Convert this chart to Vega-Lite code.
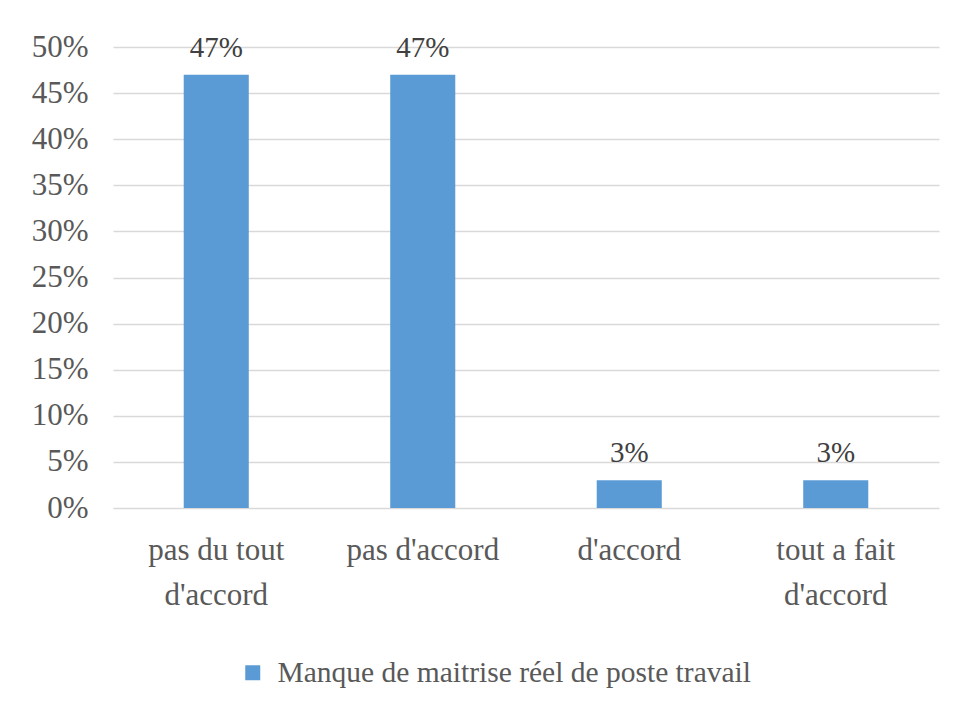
{
  "$schema": "https://vega.github.io/schema/vega-lite/v6.json",
  "width": 826,
  "height": 461,
  "autosize": {"type": "none"},
  "padding": {"left": 113, "top": 47, "right": 19, "bottom": 207},
  "background": "white",
  "data": {
    "values": [
      {"categorie": "pas du tout d'accord", "valeur": 0.47, "serie": "Manque de maitrise réel de poste travail"},
      {"categorie": "pas d'accord", "valeur": 0.47, "serie": "Manque de maitrise réel de poste travail"},
      {"categorie": "d'accord", "valeur": 0.03, "serie": "Manque de maitrise réel de poste travail"},
      {"categorie": "tout a fait d'accord", "valeur": 0.03, "serie": "Manque de maitrise réel de poste travail"}
    ]
  },
  "config": {
    "view": {"stroke": null},
    "font": "'Liberation Serif', 'Times New Roman', serif"
  },
  "encoding": {
    "x": {
      "field": "categorie",
      "type": "nominal",
      "sort": null,
      "scale": {"paddingInner": 0.685, "paddingOuter": 0.3425},
      "axis": {
        "title": null,
        "labelAngle": 0,
        "labelFont": "'Liberation Serif', 'Times New Roman', serif",
        "labelFontSize": 31,
        "labelColor": "#595959",
        "labelBaseline": "top",
        "labelPadding": 27,
        "labelLineHeight": 45,
        "domain": false,
        "ticks": false,
        "labelExpr": "datum.label == \"pas du tout d'accord\" ? [\"pas du tout\", \"d'accord\"] : datum.label == \"tout a fait d'accord\" ? [\"tout a fait\", \"d'accord\"] : datum.label"
      }
    },
    "y": {
      "field": "valeur",
      "type": "quantitative",
      "scale": {"domain": [0, 0.5]},
      "axis": {
        "title": null,
        "values": [0, 0.05, 0.1, 0.15, 0.2, 0.25, 0.3, 0.35, 0.4, 0.45, 0.5],
        "format": ".0%",
        "labelFont": "'Liberation Serif', 'Times New Roman', serif",
        "labelFontSize": 31,
        "labelColor": "#595959",
        "labelPadding": 25,
        "domain": false,
        "ticks": false,
        "gridColor": "#d9d9d9",
        "gridWidth": 1.3
      }
    }
  },
  "layer": [
    {
      "mark": {"type": "bar"},
      "encoding": {
        "color": {
          "field": "serie",
          "type": "nominal",
          "scale": {"range": ["#5b9bd5"]},
          "legend": {
            "title": null,
            "orient": "none",
            "legendX": 125,
            "legendY": 611,
            "symbolType": "square",
            "symbolSize": 225,
            "symbolStrokeWidth": 0,
            "labelFont": "'Liberation Serif', 'Times New Roman', serif",
            "labelFontSize": 29.5,
            "labelColor": "#595959",
            "labelOffset": 10,
            "labelLimit": 700
          }
        }
      }
    },
    {
      "mark": {
        "type": "text",
        "baseline": "alphabetic",
        "dy": -18,
        "font": "'Liberation Serif', 'Times New Roman', serif",
        "fontSize": 29,
        "color": "#404040"
      },
      "encoding": {
        "text": {"field": "valeur", "type": "quantitative", "format": ".0%"}
      }
    }
  ]
}
